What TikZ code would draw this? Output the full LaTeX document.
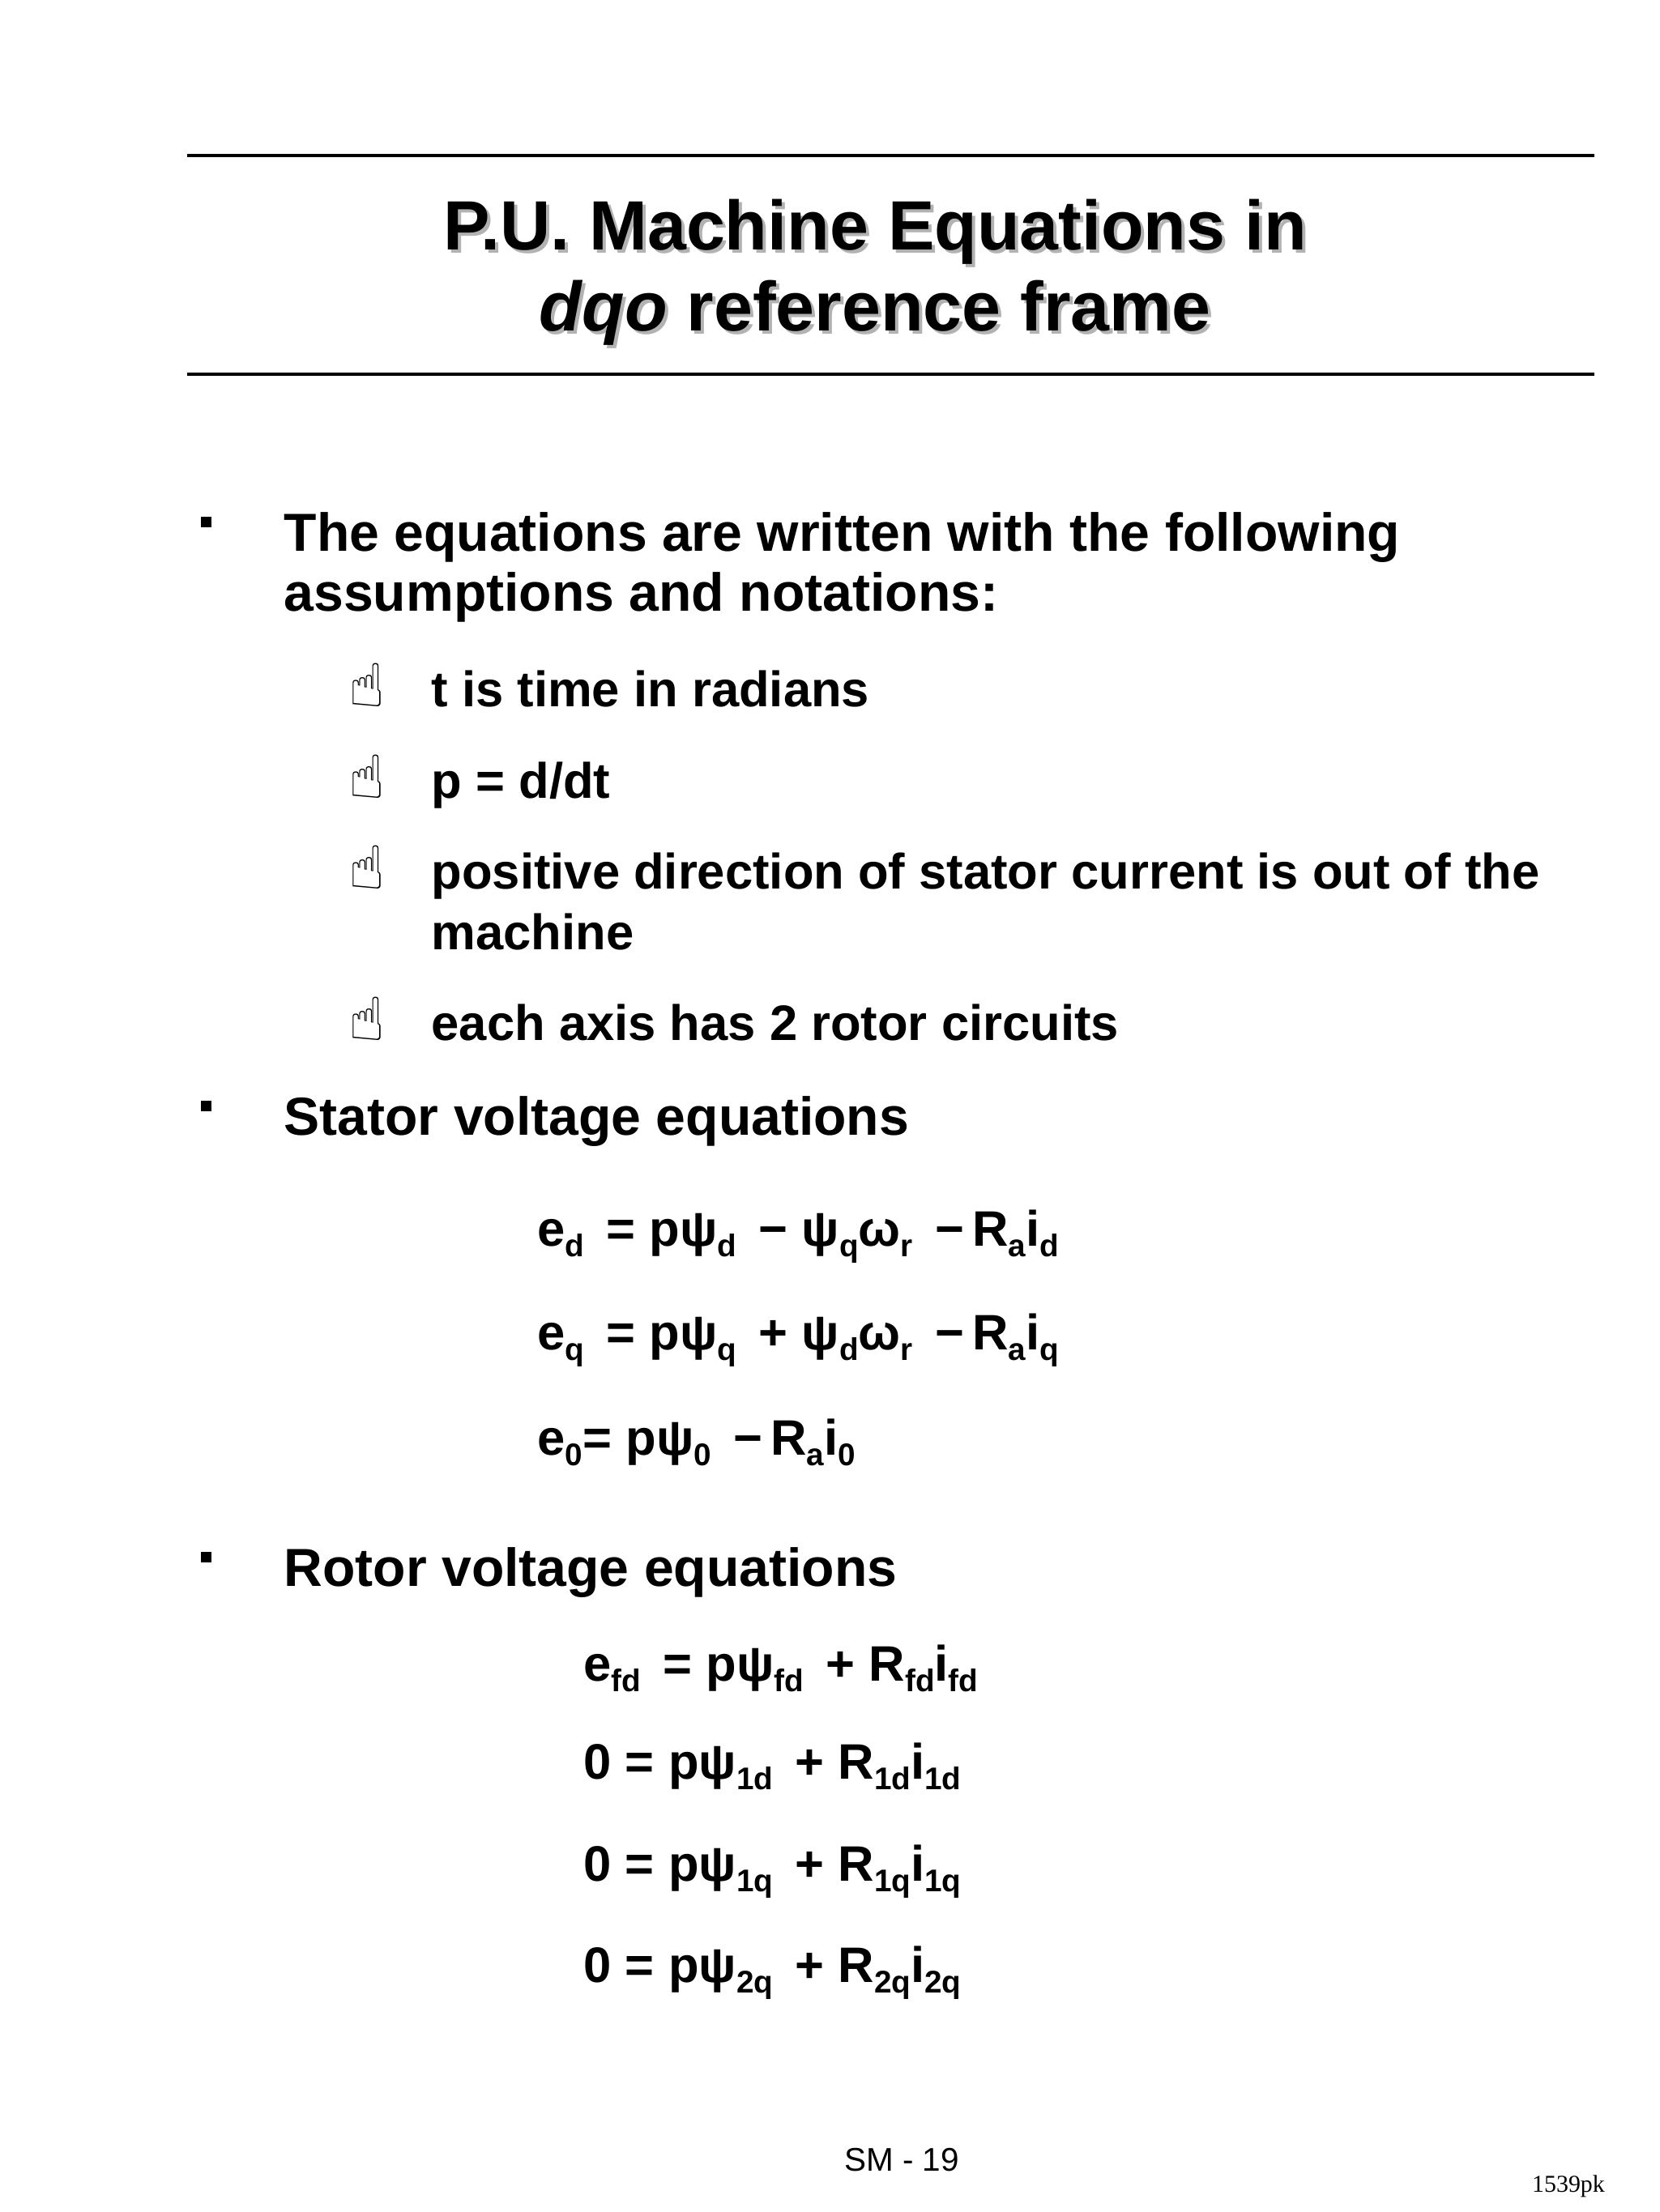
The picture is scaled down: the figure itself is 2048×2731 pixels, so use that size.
\documentclass[tikz,border=0pt]{standalone}
\usepackage{fontspec}
\setmainfont{Liberation Sans}
\newfontfamily\djv{DejaVu Sans}
\newfontfamily\tms{Liberation Serif}
\newcommand\sbx[1]{\raisebox{-0.4ex}{\fontsize{11}{12}\selectfont\bfseries #1}}
\begin{document}
\begin{tikzpicture}[x=0.01cm,y=-0.01cm,
  body/.style={anchor=base west,inner sep=0,font=\fontsize{18.8}{22}\selectfont\bfseries},
  sub/.style={anchor=base west,inner sep=0,font=\fontsize{17.5}{20}\selectfont\bfseries},
  eq/.style={anchor=base west,inner sep=0,font=\fontsize{17.5}{20}\selectfont\bfseries},
  ttl/.style={anchor=base,inner sep=0,font=\fontsize{24.5}{28}\selectfont\bfseries},
  hand/.style={anchor=base west,inner sep=0,font=\djv\fontsize{21}{22}\selectfont}]
\useasboundingbox (0,0) rectangle (2048,2731);
\draw[line width=1.2pt] (231,192) -- (1968,192);
\draw[line width=1.2pt] (231,462) -- (1968,462);
\node[ttl,text=black!30] (t1s) at (1084,313) {P.U. Machine Equations in};
\node[ttl] (t1) at (1080,309) {P.U. Machine Equations in};
\node[ttl,text=black!30] (t2s) at (1084,413) {\textit{dqo} reference frame};
\node[ttl] (t2) at (1080,409) {\textit{dqo} reference frame};
\foreach \y in {660,1381,1938}{\fill (248,\y-22) rectangle ++(13,13);}
\node[body] (l1) at (350,680) {The equations are written with the following};
\node[body] (l2) at (350,754) {assumptions and notations:};
\foreach \y in {872,985,1097,1284}{\node[hand] at (430,\y) {☝};}
\node[sub] (s1) at (532,872) {t is time in radians};
\node[sub] (s2) at (532,985) {p = d/dt};
\node[sub] (s3) at (532,1097) {positive direction of stator current is out of the};
\node[sub] (s4) at (532,1172) {machine};
\node[sub] (s5) at (532,1284) {each axis has 2 rotor circuits};
\node[body] (st) at (350,1401) {Stator voltage equations};
\node[eq] (e1) at (663,1538) {e\sbx{d} \,= pψ\sbx{d} \,− ψ\sbx{q}ω\sbx{r} \,−\,R\sbx{a}i\sbx{d}};
\node[eq] (e2) at (663,1666) {e\sbx{q} \,= pψ\sbx{q} \,+ ψ\sbx{d}ω\sbx{r} \,−\,R\sbx{a}i\sbx{q}};
\node[eq] (e3) at (663,1796) {e\sbx{0}= pψ\sbx{0} \,−\,R\sbx{a}i\sbx{0}};
\node[body] (rt) at (350,1958) {Rotor voltage equations};
\node[eq] (r1) at (720,2075) {e\sbx{fd} \,= pψ\sbx{fd} \,+ R\sbx{fd}i\sbx{fd}};
\node[eq] (r2) at (720,2196) {0 = pψ\sbx{1d} \,+ R\sbx{1d}i\sbx{1d}};
\node[eq] (r3) at (720,2322) {0 = pψ\sbx{1q} \,+ R\sbx{1q}i\sbx{1q}};
\node[eq] (r4) at (720,2447) {0 = pψ\sbx{2q} \,+ R\sbx{2q}i\sbx{2q}};
\node[anchor=base,inner sep=0,font=\fontsize{11.5}{13}\selectfont] (ft) at (1113,2680) {SM - 19};
\node[anchor=base,inner sep=0,font=\tms\fontsize{8.5}{10}\selectfont] (pk) at (1936,2706) {1539pk};
\end{tikzpicture}
\end{document}
